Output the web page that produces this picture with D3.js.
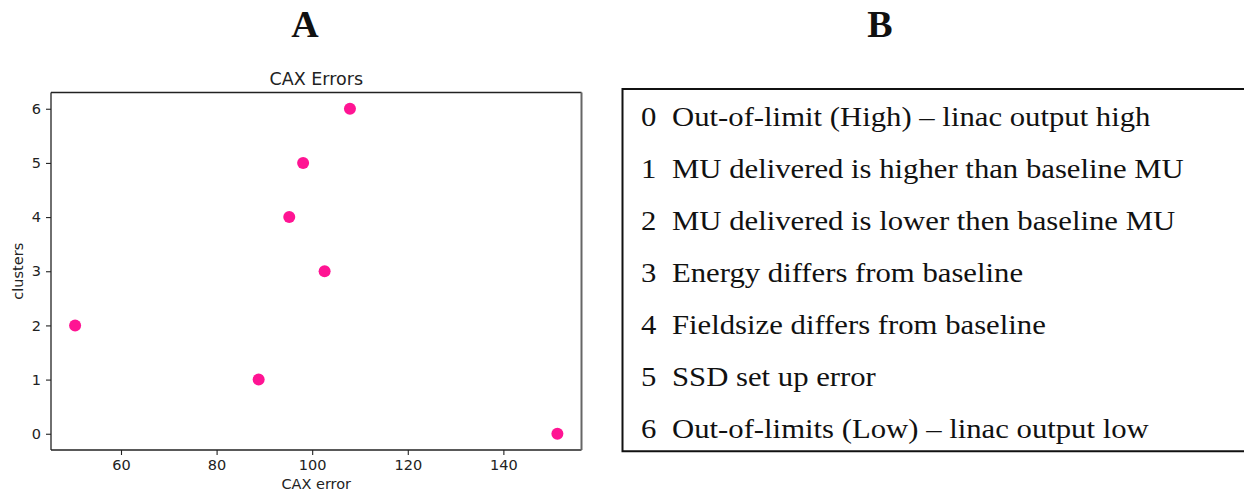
<!DOCTYPE html>
<html><head><meta charset="utf-8">
<script src="https://cdn.jsdelivr.net/npm/d3@7"></script>
<style>html,body{margin:0;padding:0;background:#fff;}</style>
</head><body>
<script>
// Data
const clusters = [0, 1, 2, 3, 4, 5, 6];
const caxError = [151.3, 88.8, 50.4, 102.6, 95.2, 98.1, 107.9];
const xTicks = [60, 80, 100, 120, 140];
const yTicks = [0, 1, 2, 3, 4, 5, 6];
const clusterDescriptions = [
  "Out-of-limit (High) \u2013 linac output high",
  "MU delivered is higher than baseline MU",
  "MU delivered is lower then baseline MU",
  "Energy differs from baseline",
  "Fieldsize differs from baseline",
  "SSD set up error",
  "Out-of-limits (Low) \u2013 linac output low"
];
const panelLabels = ["A", "B"];

const W = 1244, H = 492;
const svg = d3.select("body").append("svg").attr("width", W).attr("height", H);

// Panel labels
const panelX = [305, 880];
svg.selectAll("text.panel").data(panelLabels).join("text")
  .attr("class", "panel")
  .attr("x", (d, i) => panelX[i]).attr("y", 37)
  .attr("text-anchor", "middle")
  .attr("font-family", "Liberation Serif, Times New Roman, serif")
  .attr("font-weight", "bold").attr("font-size", 38)
  .attr("fill", "#111").text(d => d);

// Panel A: scatter
const pl = 51, pr = 581.5, pt = 92.5, pb = 450;
const xMin = d3.min(caxError), xMax = d3.max(caxError), xr = xMax - xMin;
const x = d3.scaleLinear().domain([xMin - 0.05 * xr, xMax + 0.05 * xr]).range([pl, pr]);
const y = d3.scaleLinear().domain([-0.3, 6.3]).range([pb, pt]);

const font = "DejaVu Sans, sans-serif";
const gx = svg.append("g").attr("transform", `translate(0,${pb})`)
  .call(d3.axisBottom(x).tickValues(xTicks).tickFormat(d3.format("d")).tickSize(5).tickPadding(5));
const gy = svg.append("g").attr("transform", `translate(${pl},0)`)
  .call(d3.axisLeft(y).tickValues(yTicks).tickFormat(d3.format("d")).tickSize(5).tickPadding(5));
[gx, gy].forEach(g => {
  g.select(".domain").remove();
  g.selectAll("line").attr("stroke", "#222").attr("stroke-width", 1.1);
  g.selectAll("text").attr("font-family", font).attr("font-size", 14.5).attr("fill", "#222");
});

// frame
svg.append("line").attr("x1", pl).attr("x2", pr).attr("y1", pt).attr("y2", pt).attr("stroke", "#222").attr("stroke-width", 1.3);
svg.append("line").attr("x1", pl).attr("x2", pr).attr("y1", pb).attr("y2", pb).attr("stroke", "#222").attr("stroke-width", 1.3);
svg.append("line").attr("x1", pl).attr("x2", pl).attr("y1", pt).attr("y2", pb).attr("stroke", "#222").attr("stroke-width", 1.3);
svg.append("line").attr("x1", pr).attr("x2", pr).attr("y1", pt).attr("y2", pb).attr("stroke", "#666").attr("stroke-width", 2);

svg.selectAll("circle.pt").data(clusters).join("circle")
  .attr("class", "pt")
  .attr("cx", (d, i) => x(caxError[i])).attr("cy", d => y(d))
  .attr("r", 6).attr("fill", "#ff1493");

svg.append("text").attr("x", (pl + pr) / 2).attr("y", 85).attr("text-anchor", "middle")
  .attr("font-family", font).attr("font-size", 17.5).attr("fill", "#222").text("CAX Errors");
svg.append("text").attr("x", (pl + pr) / 2).attr("y", 489).attr("text-anchor", "middle")
  .attr("font-family", font).attr("font-size", 14.5).attr("fill", "#222").text("CAX error");
svg.append("text").attr("transform", `translate(23,${(pt + pb) / 2}) rotate(-90)`).attr("text-anchor", "middle")
  .attr("font-family", font).attr("font-size", 14.5).attr("fill", "#222").text("clusters");

// Panel B: legend table
const bl = 622.5, bt = 89, bb = 451.3;
svg.append("path").attr("d", `M${W + 5},${bt} H${bl} V${bb} H${W + 5}`)
  .attr("fill", "none").attr("stroke", "#111").attr("stroke-width", 2);
const rowY = d3.scalePoint().domain(clusters).range([126, 438]);
const serif = "Liberation Serif, Times New Roman, serif";
const sx = 1.138, x0 = 641;
const tbl = svg.append("g").attr("transform", `translate(${x0},0) scale(${sx},1)`);
const rows = tbl.selectAll("g.row").data(clusters).join("g").attr("class", "row");
rows.append("text").attr("x", 0).attr("y", d => rowY(d))
  .attr("font-family", serif).attr("font-size", 27).attr("fill", "#111").text(d => d);
rows.append("text").attr("x", 31 / sx).attr("y", d => rowY(d))
  .attr("font-family", serif).attr("font-size", 27).attr("fill", "#111").text(d => clusterDescriptions[d]);
</script>
</body></html>
